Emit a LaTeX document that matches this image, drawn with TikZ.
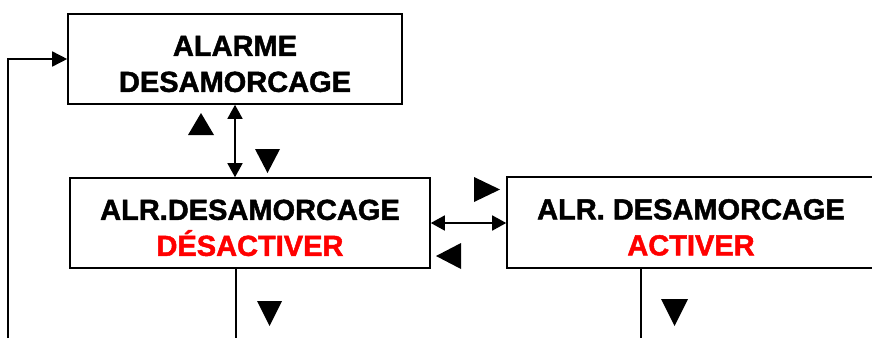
\documentclass[tikz,border=0pt]{standalone}
\usepackage{fontspec}
\setmainfont{Liberation Sans}[BoldFeatures={FakeBold=1.6}]
\usetikzlibrary{arrows.meta}
\definecolor{alred}{RGB}{255,0,0}
\newcommand{\topstrut}{\rule{0pt}{30pt}}
\begin{document}
\begin{tikzpicture}[x=1pt,y=-1pt,
  menubox/.style={draw, line width=1.6pt, inner sep=0pt, align=center,
    font=\fontsize{29}{36}\selectfont\bfseries},
  conn/.style={line width=1.6pt},
  tip/.style={-{Triangle[length=15pt,width=15pt]}},
  dtip/.style={{Triangle[length=14pt,width=15pt]}-{Triangle[length=14pt,width=15pt]}},
  tri/.style={fill=black}]
\useasboundingbox (0,0) rectangle (872,338);
\node[menubox, minimum width=334pt, minimum height=90pt] (b1) at (235,59) {\topstrut ALARME\\DESAMORCAGE};
\node[menubox, minimum width=360pt, minimum height=90pt] (b2) at (250,223) {\topstrut ALR.DESAMORCAGE\\\textcolor{alred}{DÉSACTIVER}};
\node[menubox, minimum width=368pt, minimum height=91pt] (b3) at (691,222.5) {\topstrut ALR. DESAMORCAGE\\\textcolor{alred}{ACTIVER}};
% connectors
\draw[conn,dtip] (b1.south -| 235,0) -- (b2.north -| 235,0);
\draw[conn,dtip] (b2.east |- 0,223) -- (b3.west |- 0,223);
\coordinate (e1) at (236,338);
\coordinate (e2) at (641,338);
\coordinate (e3) at (8,338);
\draw[conn] (b2.south -| e1) -- (e1);
\draw[conn] (b3.south -| e2) -- (e2);
\draw[conn,tip] (e3) -- (8,59) -- (b1.west);
% triangles
\fill[tri] (188,135) -- (214,135) -- (201,113) -- cycle;
\fill[tri] (255,149) -- (280,149) -- (267.5,173) -- cycle;
\fill[tri] (474,177) -- (474,202) -- (500,189.5) -- cycle;
\fill[tri] (461,243) -- (461,269) -- (436,256) -- cycle;
\fill[tri] (257,301) -- (282,301) -- (269.5,326) -- cycle;
\fill[tri] (661,299) -- (688,299) -- (674.5,326) -- cycle;
\end{tikzpicture}
\end{document}
